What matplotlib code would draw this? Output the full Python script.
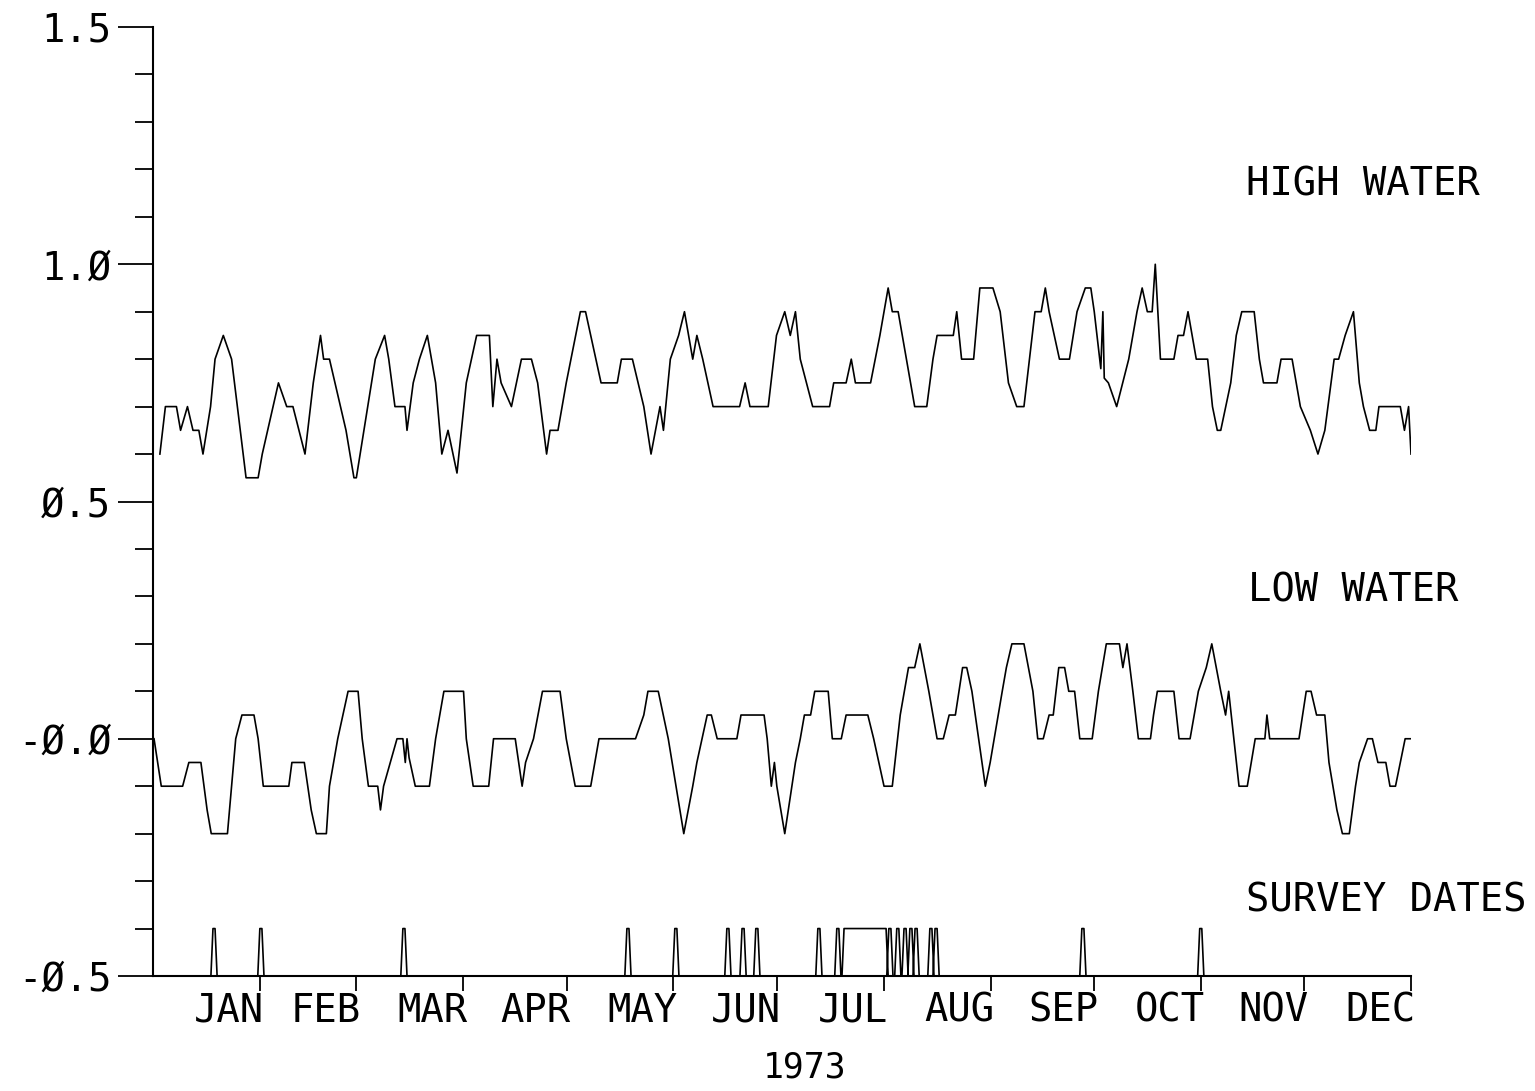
import matplotlib
matplotlib.use("Agg")
import matplotlib.pyplot as plt
from matplotlib.ticker import MultipleLocator
import matplotlib.transforms as mtransforms

# day of year (0 = 1 Jan) and water level, read at the turning points of the trace
high_day = [2.0, 3.6, 6.8, 8.0, 10.0, 11.6, 13.3, 14.5, 16.7, 18.0, 20.4, 22.8, 27.0, 30.5, 31.7,
            36.4, 38.8, 40.6, 44.1, 46.5, 48.6, 49.5, 51.2, 56.0, 58.3, 59.0, 64.5, 67.2, 68.4,
            70.2, 73.1, 73.7, 75.5, 77.3, 79.6, 82.0, 83.8, 85.6, 88.2, 90.9, 93.9, 97.6, 98.6,
            99.8, 101.0, 104.0, 106.9, 109.8, 111.6, 114.2, 115.2, 117.5, 119.9, 124.0, 125.5,
            130.0, 134.7, 135.9, 139.1, 142.4, 144.5, 147.1, 148.1, 150.1, 152.5, 154.2, 156.6,
            157.8, 159.5, 162.5, 170.2, 171.8, 173.2, 178.5, 180.9, 183.3, 184.9, 186.4, 187.8,
            189.6, 191.4, 196.3, 197.5, 201.1, 202.6, 203.8, 208.2, 210.9, 213.3, 214.5, 216.2,
            217.4, 221.0, 224.5, 226.3, 227.5, 232.2, 233.2, 234.6, 238.1, 239.9, 243.7, 245.8,
            248.2, 250.6, 252.7, 255.9, 257.7, 258.9, 260.0, 263.0, 265.9, 268.1, 270.5, 272.1,
            273.1, 275.0, 275.6, 276.0, 277.2, 279.6, 283.1, 285.5, 287.0, 288.5, 289.9, 290.8,
            292.3, 296.2, 297.4, 299.0, 300.3, 302.7, 306.0, 307.4, 308.8, 309.8, 312.7, 314.3,
            315.9, 319.5, 321.0, 322.2, 326.1, 327.3, 330.5, 332.9, 335.8, 338.0, 340.0, 342.7,
            344.0, 345.9, 348.3, 350.0, 351.2, 353.0, 354.8, 355.7, 361.9, 363.1, 364.3, 365.0]
high_level = [0.60, 0.70, 0.70, 0.65, 0.70, 0.65, 0.65, 0.60, 0.70, 0.80, 0.85, 0.80, 0.55, 0.55, 0.60,
              0.75, 0.70, 0.70, 0.60, 0.75, 0.85, 0.80, 0.80, 0.65, 0.55, 0.55, 0.80, 0.85, 0.80,
              0.70, 0.70, 0.65, 0.75, 0.80, 0.85, 0.75, 0.60, 0.65, 0.56, 0.75, 0.85, 0.85, 0.70,
              0.80, 0.75, 0.70, 0.80, 0.80, 0.75, 0.60, 0.65, 0.65, 0.75, 0.90, 0.90,
              0.75, 0.75, 0.80, 0.80, 0.70, 0.60, 0.70, 0.65, 0.80, 0.85, 0.90, 0.80,
              0.85, 0.80, 0.70, 0.70, 0.75, 0.70, 0.70, 0.85, 0.90, 0.85, 0.90, 0.80,
              0.75, 0.70, 0.70, 0.75, 0.75, 0.80, 0.75, 0.75, 0.85, 0.95, 0.90, 0.90,
              0.85, 0.70, 0.70, 0.80, 0.85, 0.85, 0.90, 0.80, 0.80, 0.95, 0.95, 0.90,
              0.75, 0.70, 0.70, 0.90, 0.90, 0.95, 0.90, 0.80, 0.80, 0.90, 0.95, 0.95,
              0.90, 0.78, 0.90, 0.76, 0.75, 0.70, 0.80, 0.90, 0.95, 0.90, 0.90, 1.00,
              0.80, 0.80, 0.85, 0.85, 0.90, 0.80, 0.80, 0.70, 0.65, 0.65, 0.75, 0.85,
              0.90, 0.90, 0.80, 0.75, 0.75, 0.80, 0.80, 0.70, 0.65, 0.60, 0.65, 0.80,
              0.80, 0.85, 0.90, 0.75, 0.70, 0.65, 0.65, 0.70, 0.70, 0.65, 0.70, 0.60]

low_day = [0.3, 2.4, 8.6, 10.4, 13.9, 15.7, 16.9, 21.6, 24.0, 25.8, 29.3, 30.5, 32.0, 39.4, 40.3,
           43.9, 45.9, 47.4, 50.3, 51.2, 53.6, 56.6, 59.5, 60.7, 62.5, 65.2, 66.0, 66.9, 70.8,
           72.5, 73.2, 73.7, 74.3, 76.1, 80.2, 82.0, 84.4, 90.1, 90.9, 92.9, 97.4, 98.8, 105.1,
           107.1, 108.1, 110.4, 113.0, 118.1, 119.9, 122.5, 127.0, 129.4, 140.0, 142.4, 143.6,
           146.6, 149.5, 154.0, 156.6, 157.8, 160.8, 162.0, 163.7, 169.4, 170.6, 177.3, 178.2,
           179.4, 180.3, 181.0, 183.3, 186.4, 187.8, 189.0, 190.8, 192.0, 195.9, 197.1, 199.7,
           201.1, 207.4, 209.1, 212.1, 214.5, 216.8, 219.2, 221.0, 222.5, 225.1, 227.5, 229.3,
           231.0, 232.8, 234.9, 236.1, 237.6, 241.5, 242.9, 246.4, 247.6, 249.2, 252.7, 255.3,
           256.7, 258.3, 260.0, 261.2, 262.8, 264.5, 265.7, 267.4, 268.9, 272.5, 274.3, 276.6,
           280.4, 281.4, 282.6, 284.3, 285.9, 289.4, 290.3, 291.4, 296.2, 297.7, 300.9, 302.1,
           303.3, 305.6, 307.2, 309.8, 311.2, 312.1, 315.1, 317.5, 319.8, 322.6, 323.2, 324.0,
           332.5, 334.6, 336.0, 337.6, 340.0, 341.2, 343.5, 345.1, 347.1, 348.9, 350.0, 352.4,
           353.8, 355.4, 357.7, 358.9, 360.5, 361.9, 363.3, 365.0]
low_level = [0.00, -0.10, -0.10, -0.05, -0.05, -0.15, -0.20, -0.20, 0.00, 0.05, 0.05, 0.00, -0.10, -0.10, -0.05,
             -0.05, -0.15, -0.20, -0.20, -0.10, 0.00, 0.10, 0.10, 0.00, -0.10, -0.10, -0.15, -0.10, 0.00,
             0.00, -0.05, 0.00, -0.04, -0.10, -0.10, 0.00, 0.10, 0.10, 0.00, -0.10, -0.10, 0.00, 0.00,
             -0.10, -0.05, 0.00, 0.10, 0.10, 0.00, -0.10, -0.10, 0.00, 0.00, 0.05, 0.10,
             0.10, 0.00, -0.20, -0.10, -0.05, 0.05, 0.05, 0.00, 0.00, 0.05, 0.05, 0.00,
             -0.10, -0.05, -0.10, -0.20, -0.05, 0.00, 0.05, 0.05, 0.10, 0.10, 0.00, 0.00,
             0.05, 0.05, 0.00, -0.10, -0.10, 0.05, 0.15, 0.15, 0.20, 0.10, 0.00, 0.00,
             0.05, 0.05, 0.15, 0.15, 0.10, -0.10, -0.05, 0.10, 0.15, 0.20, 0.20, 0.10,
             0.00, 0.00, 0.05, 0.05, 0.15, 0.15, 0.10, 0.10, 0.00, 0.00, 0.10, 0.20,
             0.20, 0.15, 0.20, 0.10, 0.00, 0.00, 0.05, 0.10, 0.10, 0.00, 0.00, 0.05,
             0.10, 0.15, 0.20, 0.10, 0.05, 0.10, -0.10, -0.10, 0.00, 0.00, 0.05, 0.00,
             0.00, 0.10, 0.10, 0.05, 0.05, -0.05, -0.15, -0.20, -0.20, -0.10, -0.05, 0.00,
             0.00, -0.05, -0.05, -0.10, -0.10, -0.05, 0.00, 0.00]

# survey days (single visits) and one continuous survey period in July
survey_days = [17.7, 31.3, 72.8, 137.8, 151.7, 166.8, 171.2, 175.2, 193.2, 198.7,
               213.8, 216.1, 218.2, 219.9, 221.4, 225.7, 227.2, 269.8, 304.0]
survey_period = (200.8, 212.4)
survey_base = -0.5
survey_mark = -0.4

month_end = [31, 59, 90, 120, 151, 181, 212, 243, 273, 304, 334, 365]
month_names = ["JAN", "FEB", "MAR", "APR", "MAY", "JUN",
               "JUL", "AUG", "SEP", "OCT", "NOV", "DEC"]
y_major = [-0.5, 0.0, 0.5, 1.0, 1.5]
y_labels = ["-Ø.5", "-Ø.Ø", "Ø.5", "1.Ø", "1.5"]

plt.rcParams['font.family'] = ['DejaVu Sans Mono', 'DejaVu Sans']

fig = plt.figure(figsize=(15.35, 10.91), dpi=100)
ax = fig.add_axes([153 / 1535, 1 - 976 / 1091, (1411 - 153) / 1535, (976 - 27) / 1091])

ax.plot(high_day, high_level, color='black', lw=1.2)
ax.plot(low_day, low_level, color='black', lw=1.2)

# survey trace: baseline with a narrow spike per visit
events = [(d, d) for d in survey_days] + [survey_period]
events.sort()
sx, sy = [0.0], [survey_base]
for a, b in events:
    sx += [a - 0.9, a - 0.3, b + 0.3, b + 0.9]
    sy += [survey_base, survey_mark, survey_mark, survey_base]
sx.append(365.0)
sy.append(survey_base)
ax.plot(sx, sy, color='black', lw=1.2, clip_on=False)

ax.set_xlim(0, 365)
ax.set_ylim(-0.5, 1.5)

for s in ['top', 'right']:
    ax.spines[s].set_visible(False)
for s in ['left', 'bottom']:
    ax.spines[s].set_linewidth(1.5)

ax.set_yticks(y_major)
ax.set_yticklabels(y_labels, fontsize=28)
ax.yaxis.set_minor_locator(MultipleLocator(0.1))
ax.tick_params(axis='y', which='major', direction='out', length=25, width=1.3, pad=5)
ax.tick_params(axis='y', which='minor', direction='out', length=13, width=1.3)

ax.set_xticks(month_end)
ax.set_xticklabels([])
ax.tick_params(axis='x', which='major', direction='out', length=11, width=1.3)

trans = mtransforms.blended_transform_factory(ax.transData, fig.transFigure)
for d, name in zip(month_end, month_names):
    ax.text(d + 1.2, 1 - 1011 / 1091, name, transform=trans, ha='right', va='center',
            fontsize=28, clip_on=False)

fig.text(805 / 1535, 1 - 1068 / 1091, "1973", ha='center', va='center', fontsize=25)
fig.text(1246 / 1535, 1 - 185 / 1091, "HIGH WATER", ha='left', va='center', fontsize=28)
fig.text(1248 / 1535, 1 - 591 / 1091, "LOW WATER", ha='left', va='center', fontsize=28)
fig.text(1246 / 1535, 1 - 901 / 1091, "SURVEY DATES", ha='left', va='center', fontsize=28)

fig.savefig("out.png", dpi=100, facecolor='white')
